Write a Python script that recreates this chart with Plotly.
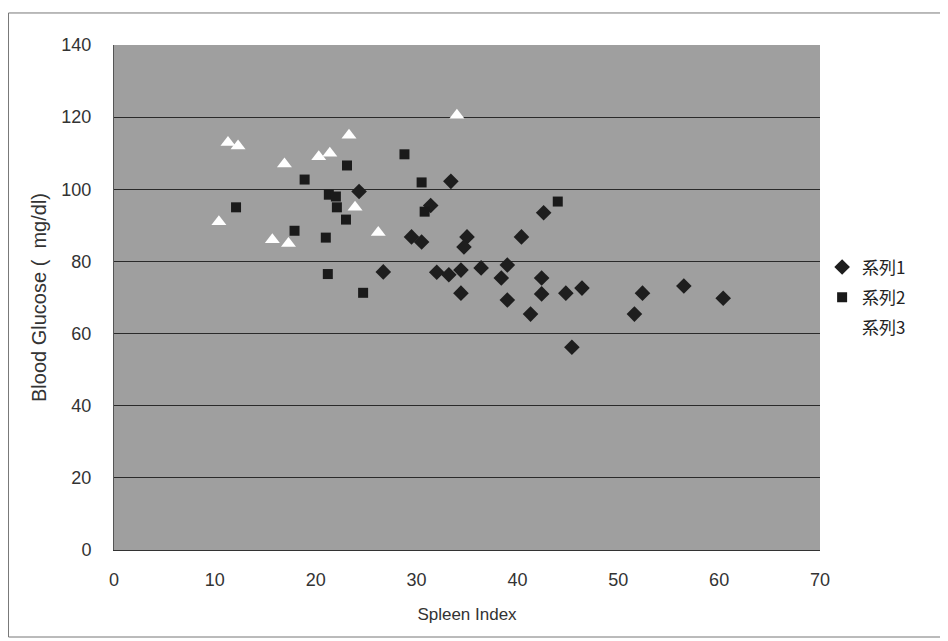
import plotly.graph_objects as go

# Series 1 (diamonds)
s1_x = [24.3, 26.7, 29.5, 30.5, 31.4, 33.4, 35.0, 34.7, 32.0, 33.2, 34.4, 34.4, 36.4, 38.4,
        39.0, 39.0, 40.4, 42.6, 42.4, 42.4, 41.3, 44.8, 46.4, 45.4, 52.4, 51.6, 56.5, 60.4]
s1_y = [99.4, 77.1, 86.8, 85.4, 95.5, 102.2, 86.8, 84.0, 77.0, 76.3, 77.6, 71.2, 78.2, 75.4,
        79.0, 69.3, 86.8, 93.5, 75.4, 71.0, 65.4, 71.2, 72.6, 56.2, 71.2, 65.4, 73.2, 69.8]

# Series 2 (squares)
s2_x = [12.1, 17.9, 18.9, 21.0, 21.2, 21.3, 22.0, 22.1, 23.0, 23.1, 24.7, 28.8, 30.5, 30.8, 44.0]
s2_y = [95.0, 88.5, 102.7, 86.6, 76.5, 98.5, 98.0, 95.0, 91.6, 106.6, 71.3, 109.7, 101.9, 93.8, 96.6]

# Series 3 (white triangles)
s3_x = [10.4, 11.3, 12.3, 15.7, 16.9, 17.3, 20.3, 21.4, 23.3, 23.9, 26.2, 34.0]
s3_y = [91.0, 113.0, 112.0, 86.0, 107.0, 85.0, 109.0, 110.0, 115.0, 95.0, 88.0, 120.5]

series_names = ["系列1", "系列2", "系列3"]

x_ticks = [0, 10, 20, 30, 40, 50, 60, 70]
y_ticks = [0, 20, 40, 60, 80, 100, 120, 140]

fig = go.Figure()
fig.add_trace(go.Scatter(x=s1_x, y=s1_y, mode="markers", name=series_names[0], legendgroup="g1",
                         marker=dict(symbol="diamond", size=12, color="#1e1e1e")))
fig.add_trace(go.Scatter(x=s2_x, y=s2_y, mode="markers", name=series_names[1], legendgroup="g2",
                         marker=dict(symbol="square", size=10, color="#1a1a1a")))
fig.add_trace(go.Scatter(x=s3_x, y=s3_y, mode="markers", name=series_names[2], legendgroup="g3",
                         marker=dict(symbol="triangle-up", size=13, color="#ffffff")))

font_family = "Liberation Sans, Arial, sans-serif"

fig.update_layout(
    width=948, height=641,
    margin=dict(l=106, r=136, t=37, b=99),
    paper_bgcolor="#ffffff",
    plot_bgcolor="#9f9f9f",
    font=dict(family=font_family, size=18, color="#333333"),
    showlegend=True,
    legend=dict(x=1.003, y=0.50, xanchor="left", yanchor="middle",
                font=dict(family="Noto Sans CJK JP, sans-serif", size=17, color="#222222"),
                bgcolor="rgba(0,0,0,0)", itemwidth=30, tracegroupgap=5),
    xaxis=dict(range=[0, 70], tickvals=x_ticks, ticktext=[str(v) for v in x_ticks],
               showgrid=False, zeroline=False, showline=True, linecolor="#333333",
               linewidth=1, ticks="", ticklabelstandoff=13,
               tickfont=dict(size=18, color="#333333"),
               title=dict(text="Spleen Index", standoff=19,
                          font=dict(family=font_family, size=17, color="#333333"))),
    yaxis=dict(range=[0, 140], tickvals=y_ticks, ticktext=[str(v) for v in y_ticks],
               showgrid=True, gridcolor="#2a2a2a", gridwidth=1, zeroline=False,
               showline=True, linecolor="#555555", linewidth=1, ticks="",
               ticklabelstandoff=18,
               tickfont=dict(size=18, color="#333333"),
               title=dict(text="Blood Glucose (\u00a0\u00a0mg/dl)", standoff=9,
                          font=dict(family=font_family, size=20, color="#333333"))),
)

# outer chart frame
fig.add_shape(type="rect", xref="paper", yref="paper",
              x0=-0.1494, x1=1.1756, y0=-0.1723, y1=1.0634,
              line=dict(color="#777777", width=1), fillcolor="rgba(0,0,0,0)", layer="below")

fig.write_html("out.html")
